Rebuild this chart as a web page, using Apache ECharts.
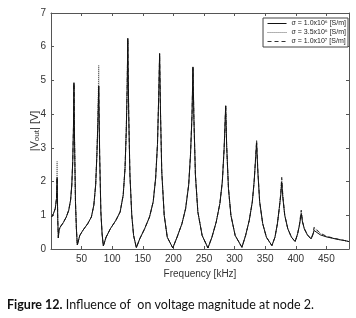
<!DOCTYPE html>
<html>
<head>
<meta charset="utf-8">
<script src="https://cdn.jsdelivr.net/npm/echarts@6/dist/echarts.min.js"></script>
<style>
  html, body { margin: 0; padding: 0; background: #fff; }
  #chart { width: 356px; height: 318px; }
</style>
</head>
<body>
<div id="chart"></div>
<script>
// frequency [kHz]
const freq = [1, 4, 7, 9, 10, 11, 12, 13, 15, 20, 25, 29, 32, 34, 35.5, 36.7, 37.5, 38.5, 40, 41.5,
  43, 47, 52, 60, 66, 70, 73, 75, 76.7, 78, 79.5, 81.5, 83.5, 85.5, 90, 97, 106, 113, 118, 121,
  123, 124.5, 125.5, 127, 129, 132, 135, 139.5, 145, 153, 161, 167, 171, 174, 176, 177.5, 179, 181, 185, 190,
  199, 206, 214, 220, 225, 228, 230.5, 232, 233.5, 236, 240, 247, 256.5, 263, 270, 276, 280, 283, 285.5, 287,
  290, 294, 301, 312, 318, 324, 329, 332, 334.5, 336, 338, 341, 346, 352, 361, 366, 370, 373, 375.5, 377,
  379, 382, 387, 393, 399, 403, 406, 409, 411, 414, 419, 425, 428, 430, 433, 440, 450, 460, 470, 480, 487]

// |Vout| [V], sigma = 1.0x10^6
const vSigma1 = [0.95, 1.05, 1.2, 1.5, 2.12, 0.9, 0.33, 0.55, 0.65, 0.78, 0.95, 1.15, 1.45, 1.9, 2.6, 3.6, 4.93, 3.2, 1.4, 0.6,
  0.12, 0.4, 0.55, 0.75, 0.95, 1.3, 1.9, 2.8, 3.8, 4.83, 2.8, 1.1, 0.45, 0.09, 0.35, 0.6, 0.85, 1.1, 1.6, 2.4,
  3.5, 4.8, 6.25, 4.0, 2.2, 1.0, 0.4, 0.04, 0.3, 0.6, 0.95, 1.4, 2.1, 3.1, 4.5, 5.8, 4.0, 2.3, 1.0, 0.35,
  0.03, 0.35, 0.75, 1.2, 1.9, 2.8, 4.0, 5.4, 3.9, 2.2, 1.1, 0.4, 0.03, 0.35, 0.8, 1.35, 2.0, 3.0, 4.25, 3.1,
  1.8, 1.0, 0.4, 0.05, 0.4, 0.85, 1.4, 2.0, 2.7, 3.15, 2.3, 1.4, 0.75, 0.35, 0.1, 0.35, 0.75, 1.2, 1.6, 1.98,
  1.5, 1.0, 0.6, 0.35, 0.22, 0.45, 0.7, 1.05, 0.8, 0.6, 0.42, 0.3, 0.42, 0.55, 0.5, 0.42, 0.36, 0.32, 0.28, 0.25, 0.22]

// sigma = 3.5x10^6
const vSigma2 = [0.95, 1.05, 1.2, 1.5, 2.6, 0.9, 0.33, 0.55, 0.65, 0.78, 0.95, 1.15, 1.45, 1.9, 2.6, 3.6, 4.93, 3.2, 1.4, 0.6,
  0.12, 0.4, 0.55, 0.75, 0.95, 1.3, 1.9, 2.8, 3.9, 5.45, 2.9, 1.1, 0.45, 0.09, 0.35, 0.6, 0.85, 1.1, 1.6, 2.4,
  3.5, 4.8, 6.25, 4.0, 2.2, 1.0, 0.4, 0.04, 0.3, 0.6, 0.95, 1.4, 2.1, 3.1, 4.5, 5.8, 4.0, 2.3, 1.0, 0.35,
  0.03, 0.35, 0.75, 1.2, 1.9, 2.8, 4.0, 5.4, 3.9, 2.2, 1.1, 0.4, 0.03, 0.35, 0.8, 1.35, 2.0, 3.0, 4.25, 3.1,
  1.8, 1.0, 0.4, 0.05, 0.4, 0.85, 1.4, 2.0, 2.75, 3.22, 2.35, 1.4, 0.75, 0.35, 0.1, 0.35, 0.75, 1.2, 1.65, 2.12,
  1.55, 1.0, 0.6, 0.35, 0.22, 0.45, 0.72, 1.15, 0.82, 0.6, 0.42, 0.3, 0.44, 0.62, 0.58, 0.46, 0.37, 0.32, 0.28, 0.25, 0.22]

// sigma = 1.0x10^7
const vSigma3 = [0.95, 1.05, 1.2, 1.5, 2.12, 0.9, 0.33, 0.55, 0.65, 0.78, 0.95, 1.15, 1.45, 1.9, 2.6, 3.6, 4.9, 3.2, 1.4, 0.6,
  0.12, 0.4, 0.55, 0.75, 0.95, 1.3, 1.9, 2.8, 3.8, 4.83, 2.8, 1.1, 0.45, 0.09, 0.35, 0.6, 0.85, 1.1, 1.6, 2.4,
  3.5, 4.8, 6.2, 4.0, 2.2, 1.0, 0.4, 0.04, 0.3, 0.6, 0.95, 1.4, 2.1, 3.1, 4.5, 5.75, 4.0, 2.3, 1.0, 0.35,
  0.03, 0.35, 0.75, 1.2, 1.9, 2.8, 4.0, 5.35, 3.9, 2.2, 1.1, 0.4, 0.03, 0.35, 0.8, 1.35, 2.0, 3.0, 4.25, 3.1,
  1.8, 1.0, 0.4, 0.05, 0.4, 0.85, 1.4, 2.0, 2.75, 3.22, 2.35, 1.4, 0.75, 0.35, 0.1, 0.35, 0.75, 1.2, 1.65, 2.12,
  1.55, 1.0, 0.6, 0.35, 0.22, 0.45, 0.72, 1.15, 0.82, 0.6, 0.42, 0.3, 0.45, 0.65, 0.6, 0.47, 0.38, 0.33, 0.29, 0.25, 0.22]

const seriesNames = ['σ = 1.0x10⁶ [S/m]', 'σ = 3.5x10⁶ [S/m]', 'σ = 1.0x10⁷ [S/m]']
const caption = 'Figure 12.'
const captionRest = ' Influence of  on voltage magnitude at node 2.'

const pairs = (vals) => freq.map((f, i) => [f, vals[i]])

const chart = echarts.init(document.getElementById('chart'))
const axisColor = '#555'
const labelFont = 'Liberation Sans'

const boxAxis = {
  axisLine: { show: true, onZero: false, lineStyle: { color: axisColor, width: 1 } },
  axisTick: { show: true, inside: true, length: 3, lineStyle: { color: axisColor } },
  splitLine: { show: false }
}

const option = {
  animation: false,
  backgroundColor: '#fff',
  grid: { left: 51, top: 13, right: 7, bottom: 69 },
  legend: {
    orient: 'vertical',
    right: 8,
    top: 18,
    align: 'left',
    data: seriesNames,
    itemWidth: 19,
    itemHeight: 8,
    itemGap: 2,
    padding: [2, 2, 2, 4],
    backgroundColor: '#fff',
    borderColor: '#444',
    borderWidth: 1,
    itemStyle: { opacity: 0 },
    lineStyle: { width: 1, type: 'inherit', color: 'inherit' },
    textStyle: { fontFamily: labelFont, fontSize: 7, color: '#222' }
  },
  xAxis: [
    Object.assign({}, boxAxis, {
      type: 'value', min: 0, max: 487, interval: 50, position: 'bottom',
      axisLabel: {
        showMaxLabel: false, fontFamily: labelFont, fontSize: 10, color: '#333', margin: 5,
        formatter: (v) => (v === 0 ? '' : String(v))
      },
      name: 'Frequency [kHz]', nameLocation: 'middle', nameGap: 15,
      nameTextStyle: { fontFamily: labelFont, fontSize: 10, color: '#333' }
    }),
    Object.assign({}, boxAxis, {
      type: 'value', min: 0, max: 487, interval: 50, position: 'top',
      axisLabel: { show: false }
    })
  ],
  yAxis: [
    Object.assign({}, boxAxis, {
      type: 'value', min: 0, max: 7, interval: 1, position: 'left',
      axisLabel: { fontFamily: labelFont, fontSize: 10, color: '#333', margin: 5 },
      name: '{n||V}{s|out}{n|| [V]}', nameLocation: 'middle', nameGap: 10, nameRotate: 90,
      nameMoveOverlap: false,
      nameTextStyle: {
        fontFamily: labelFont, fontSize: 11, color: '#333',
        rich: {
          n: { fontFamily: labelFont, fontSize: 11, color: '#333', lineHeight: 13 },
          s: { fontFamily: labelFont, fontSize: 8, color: '#333', padding: [5, 0, 0, 0], lineHeight: 13 }
        }
      }
    }),
    Object.assign({}, boxAxis, {
      type: 'value', min: 0, max: 7, interval: 1, position: 'right',
      axisLabel: { show: false }
    })
  ],
  graphic: [{
    type: 'text',
    left: 7,
    top: 298,
    style: {
      text: '{b|' + caption + '}{r|' + captionRest + '}',
      rich: {
        b: { fontFamily: 'Lato', fontWeight: 'bold', fontSize: 12.5, fill: '#111' },
        r: { fontFamily: 'Lato', fontSize: 12.5, fill: '#111' }
      }
    }
  }],
  series: [
    {
      name: seriesNames[0], type: 'line', data: pairs(vSigma1), z: 5,
      showSymbol: false, symbol: 'none',
      itemStyle: { color: '#111' },
      lineStyle: { color: '#111', width: 1, type: 'solid' }
    },
    {
      name: seriesNames[1], type: 'line', data: pairs(vSigma2), z: 3,
      showSymbol: false, symbol: 'none',
      itemStyle: { color: '#666' },
      lineStyle: { color: '#666', width: 1, type: 'dotted' }
    },
    {
      name: seriesNames[2], type: 'line', data: pairs(vSigma3), z: 4,
      showSymbol: false, symbol: 'none',
      itemStyle: { color: '#333' },
      lineStyle: { color: '#333', width: 1, type: [4, 3] }
    }
  ]
}

chart.setOption(option, true)
</script>
</body>
</html>
